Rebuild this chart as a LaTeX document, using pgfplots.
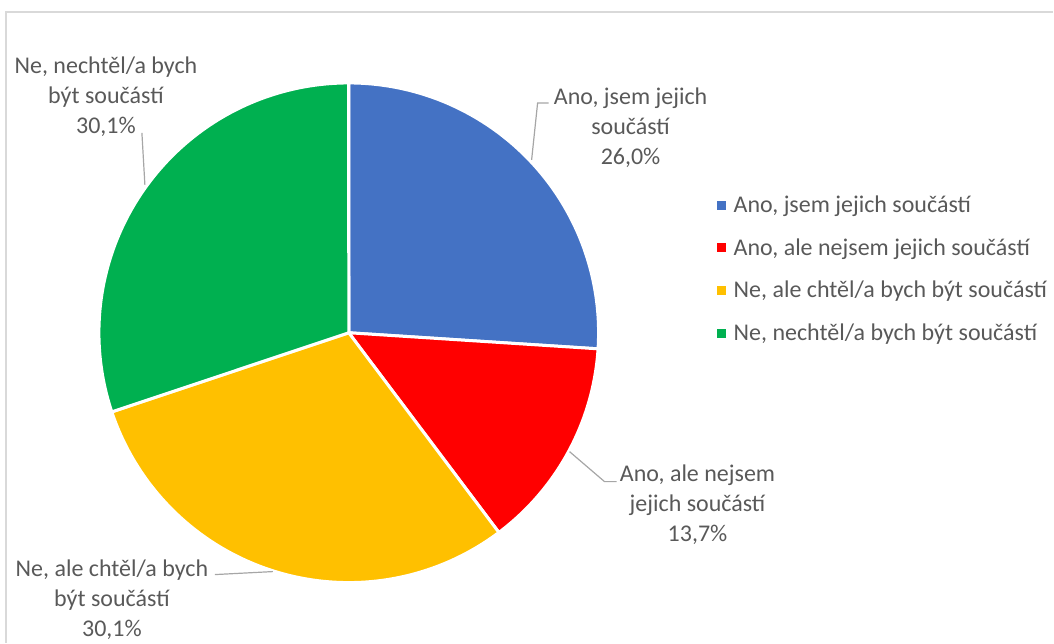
\documentclass[border=0pt]{standalone}
\usepackage{pgfplots}
\pgfplotsset{compat=1.18}
\usepackage{fontspec}
\setmainfont{Carlito}
\definecolor{cBlue}{HTML}{4472C4}
\definecolor{cRed}{HTML}{FF0000}
\definecolor{cYel}{HTML}{FFC000}
\definecolor{cGrn}{HTML}{00B050}
\definecolor{txt}{HTML}{595959}
\definecolor{lead}{HTML}{A6A6A6}
\definecolor{frame}{HTML}{D9D9D9}
% data (percent)
\def\vA{26.0}
\def\vB{13.7}
\def\vC{30.1}
\def\vD{30.1}
\pgfmathsetmacro\tot{\vA+\vB+\vC+\vD}
\pgfmathsetmacro\aA{90}
\pgfmathsetmacro\aB{\aA-\vA/\tot*360}
\pgfmathsetmacro\aC{\aB-\vB/\tot*360}
\pgfmathsetmacro\aD{\aC-\vC/\tot*360}
\pgfmathsetmacro\aE{\aD-\vD/\tot*360}
\def\cx{349}
\def\cy{310}
\def\R{250}
\begin{document}
\begin{tikzpicture}
\begin{axis}[
  scale only axis, width=1054pt, height=643pt,
  xmin=0, xmax=1054, ymin=0, ymax=643,
  hide axis, clip=false, enlargelimits=false,
  legend cell align=left,
  legend style={at={(axis cs:714,451)}, anchor=north west, draw=none, fill=none,
    font=\fontsize{24}{28}\selectfont\color{txt}, row sep=20.5pt,
    /tikz/every odd column/.append style={column sep=6pt}},
  legend image code/.code={\path[#1,draw=none] (0pt,-4.5pt) rectangle (9pt,4.5pt);},
]
\addplot[fill=cBlue, draw=white, line width=3pt, line join=round, domain=\aB:\aA, samples=100, variable=\t]
  ({\cx+\R*cos(t)},{\cy+\R*sin(t)}) -- (\cx,\cy) -- cycle;
\addlegendentry{Ano, jsem jejich součástí}
\addplot[fill=cRed, draw=white, line width=3pt, line join=round, domain=\aC:\aB, samples=100, variable=\t]
  ({\cx+\R*cos(t)},{\cy+\R*sin(t)}) -- (\cx,\cy) -- cycle;
\addlegendentry{Ano, ale nejsem jejich součástí}
\addplot[fill=cYel, draw=white, line width=3pt, line join=round, domain=\aD:\aC, samples=100, variable=\t]
  ({\cx+\R*cos(t)},{\cy+\R*sin(t)}) -- (\cx,\cy) -- cycle;
\addlegendentry{Ne, ale chtěl/a bych být součástí}
\addplot[fill=cGrn, draw=white, line width=3pt, line join=round, domain=\aE:\aD, samples=100, variable=\t]
  ({\cx+\R*cos(t)},{\cy+\R*sin(t)}) -- (\cx,\cy) -- cycle;
\addlegendentry{Ne, nechtěl/a bych být součástí}

% frame
\draw[frame, line width=1.5pt] (6,0) -- (6,631) -- (1054,631);
\path (0,0) rectangle (1054,643);

% leader lines
\draw[lead, line width=1.2pt] (549,540) -- (538,540) -- (532,483);
\draw[lead, line width=1.2pt] (617,161) -- (605,161) -- (570,191);
\draw[lead, line width=1.2pt] (215,68) -- (273,71);
\draw[lead, line width=1.2pt] (142,510) -- (145,458);

% data labels
\begin{scope}[every node/.style={align=center, text=txt, font=\fontsize{24}{30}\selectfont, inner sep=0pt}]
\node at (631,515) {Ano, jsem jejich\\součástí\\26,0\%};
\node at (698,138) {Ano, ale nejsem\\jejich součástí\\13,7\%};
\node at (112,43) {Ne, ale chtěl/a bych\\být součástí\\30,1\%};
\node at (106,546) {Ne, nechtěl/a bych\\být součástí\\30,1\%};
\end{scope}
\end{axis}
\end{tikzpicture}
\end{document}
